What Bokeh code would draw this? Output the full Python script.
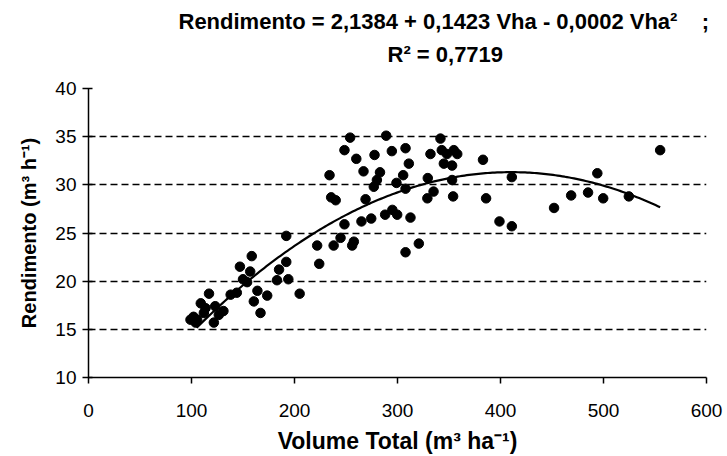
from bokeh.plotting import figure
from bokeh.models import Range1d, FixedTicker, Title
from bokeh.embed import file_html
from bokeh.resources import INLINE
import numpy as np

# ---- data ----
vha = [99, 102, 104, 105.5, 109, 112, 113.6, 117, 121.7, 123, 126.5, 131, 138, 144,
       147, 150, 154, 157, 158.5, 160.5, 164, 167, 173.5, 183, 185, 192, 192, 194, 205,
       222, 224, 234, 235.6, 240, 238, 244.7, 248.5, 248.5, 254, 256, 257.6, 260, 265,
       267, 269, 274.5, 277.7, 277, 280, 283, 288, 289, 294.5, 295, 299, 299.7, 305.5,
       307.8, 307.8, 307.8, 311, 312.6, 320.7, 329.4, 329, 332, 335, 341.7, 343, 345,
       348, 353, 353, 354, 354.7, 358, 383, 386, 399, 411, 411, 452, 468.6, 485, 494,
       499.7, 524.6, 555]
rend = [16.0, 16.3, 15.7, 16.0, 17.7, 16.7, 17.2, 18.7, 15.7, 17.4, 16.5, 16.9, 18.6, 18.8,
        21.5, 20.2, 19.9, 21.0, 22.6, 17.9, 19.0, 16.7, 18.5, 20.1, 21.2, 22.0, 24.7, 20.2, 18.7,
        23.7, 21.8, 31.0, 28.7, 28.4, 23.7, 24.5, 33.6, 25.9, 34.9, 23.7, 24.1, 32.7, 26.2,
        31.4, 28.5, 26.5, 33.1, 29.8, 30.5, 31.3, 26.9, 35.1, 33.5, 27.4, 30.2, 26.9, 31.0,
        33.8, 29.6, 23.0, 32.2, 26.6, 23.9, 30.7, 28.6, 33.2, 29.3, 34.8, 33.6, 32.2,
        33.2, 32.0, 30.5, 28.8, 33.6, 33.2, 32.6, 28.6, 26.2, 30.8, 25.7, 27.6, 28.9, 29.2, 31.2,
        28.6, 28.8, 33.6]

# quadratic trend (intercept, linear, quadratic) and its drawn extent
coef_a = 2.1384
coef_b = 0.1423
coef_c = -0.0001735
curve_from, curve_to = 105, 555

x_ticks = [0, 100, 200, 300, 400, 500, 600]
y_ticks = [10, 15, 20, 25, 30, 35, 40]

title_line1 = "Rendimento = 2,1384 + 0,1423 Vha - 0,0002 Vha²" + "\u00a0" * 4 + ";"
title_line2 = "R² = 0,7719"
x_label = "Volume Total (m³ ha⁻¹)"
y_label = "Rendimento (m³ h⁻¹)"

FONT = "Liberation Sans"

p = figure(width=727, height=456, output_backend="svg", toolbar_location=None,
           x_range=Range1d(0, 600), y_range=Range1d(10, 40),
           min_border_left=88, min_border_right=21, min_border_top=88, min_border_bottom=0)
p.outline_line_color = None
p.background_fill_color = "white"
p.border_fill_color = "white"

# grid
p.xgrid.visible = False
p.ygrid.ticker = FixedTicker(ticks=y_ticks)
p.ygrid.grid_line_color = "black"
p.ygrid.grid_line_dash = "7 4"
p.ygrid.grid_line_width = 1.6

# axes
for ax in (p.xaxis, p.yaxis):
    ax.axis_line_color = "black"
    ax.axis_line_width = 1.5
    ax.major_tick_line_color = "black"
    ax.major_tick_line_width = 1.5
    ax.minor_tick_line_color = None
    ax.major_label_text_font = FONT
    ax.major_label_text_font_size = "19px"
    ax.major_label_text_color = "black"
    ax.axis_label_text_font = FONT
    ax.axis_label_text_font_style = "bold"
    ax.axis_label_text_color = "black"

p.xaxis.axis_label_text_font_size = "23px"
p.yaxis.axis_label_text_font_size = "20px"
p.xaxis.ticker = FixedTicker(ticks=x_ticks)
p.yaxis.ticker = FixedTicker(ticks=y_ticks)
p.xaxis.major_tick_in = 0
p.xaxis.major_tick_out = 6
p.yaxis.major_tick_in = 4
p.yaxis.major_tick_out = 6
p.xaxis.major_label_standoff = 20
p.yaxis.major_label_standoff = 6
p.xaxis.axis_label = x_label
p.yaxis.axis_label = y_label
p.xaxis.axis_label_standoff = 8
p.yaxis.axis_label_standoff = 12

# titles: spacer closest to the plot, then line 2, then line 1
spacer = Title(text="\u00a0", text_font_size="1px", standoff=16)
t2 = Title(text=title_line2, align="left", offset=299, standoff=6,
           text_font=FONT, text_font_style="bold", text_font_size="22px", text_color="black")
t1 = Title(text=title_line1, align="left", offset=90, standoff=5,
           text_font=FONT, text_font_style="bold", text_font_size="22px", text_color="black")
p.add_layout(spacer, "above")
p.add_layout(t2, "above")
p.add_layout(t1, "above")

# trend line
xs = np.linspace(curve_from, curve_to, 200)
ys = coef_a + coef_b * xs + coef_c * xs ** 2
p.line(xs, ys, line_color="black", line_width=2.2)

# points
p.scatter(vha, rend, size=9.5, fill_color="black", line_color="black")

open("out.html", "w").write(file_html(p, INLINE))
